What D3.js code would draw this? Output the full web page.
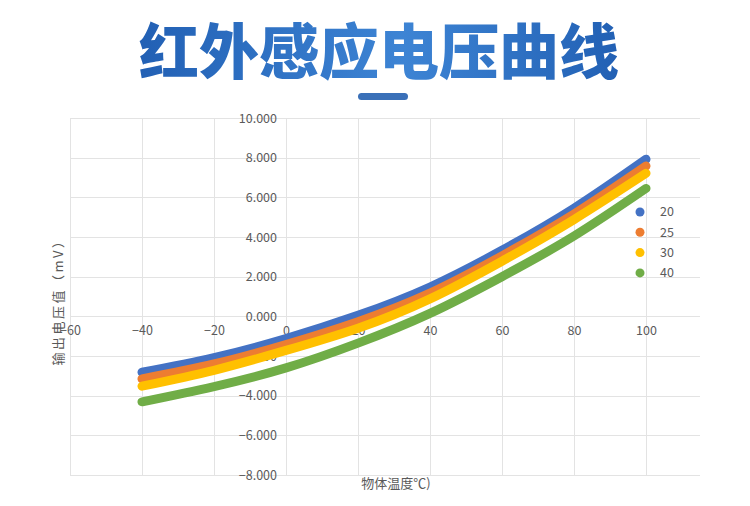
<!DOCTYPE html>
<html>
<head>
<meta charset="utf-8">
<script src="https://cdn.jsdelivr.net/npm/d3@7/dist/d3.min.js"></script>
<style>
  html, body { margin: 0; padding: 0; background: #fff; }
  svg { display: block; }
  .tick-label { font-family: "Noto Sans CJK SC", "Noto Sans", sans-serif; font-size: 12.5px; fill: #5a5a5a; }
</style>
</head>
<body>
<div id="chart"></div>
<script>
// ---- data ----
const title = "红外感应电压曲线";
const xTitle = "物体温度℃)";
const yTitle = "输出电压值（mV）";

const temps = [-40, -20, 0, 20, 40, 60, 80, 100];
const seriesNames = ["20", "25", "30", "40"];
const s20 = [-2.82, -2.08, -1.12, 0.05, 1.48, 3.33, 5.45, 7.92];
const s25 = [-3.15, -2.40, -1.42, -0.27, 1.17, 3.05, 5.16, 7.58];
const s30 = [-3.52, -2.72, -1.72, -0.60, 0.88, 2.78, 4.88, 7.21];
const s40 = [-4.31, -3.54, -2.60, -1.35, 0.15, 2.00, 4.05, 6.45];
const seriesColors = ["#4472C4", "#ED7D31", "#FFC000", "#70AD47"];

const xTicks = [-60, -40, -20, 0, 20, 40, 60, 80, 100];
const yTicks = [-8, -6, -4, -2, 0, 2, 4, 6, 8, 10];

// ---- layout ----
const W = 750, H = 506;
const plot = { left: 70, right: 700, top: 118, bottom: 475 };

const svg = d3.select("#chart").append("svg")
  .attr("width", W).attr("height", H);

// title gradient
const defs = svg.append("defs");
const grad = defs.append("linearGradient").attr("id", "titleGrad")
  .attr("x1", "0%").attr("x2", "100%").attr("y1", "0%").attr("y2", "0%");
grad.append("stop").attr("offset", "0%").attr("stop-color", "#2260b4");
grad.append("stop").attr("offset", "55%").attr("stop-color", "#3d84d4");
grad.append("stop").attr("offset", "100%").attr("stop-color", "#2260b4");

svg.append("text")
  .attr("x", 379).attr("y", 74)
  .attr("text-anchor", "middle")
  .attr("font-family", "'Noto Sans CJK SC', sans-serif")
  .attr("font-weight", 900)
  .attr("font-size", 60)
  .attr("fill", "url(#titleGrad)")
  .text(title);

svg.append("rect")
  .attr("x", 358).attr("y", 93).attr("width", 50).attr("height", 7)
  .attr("rx", 3.5).attr("fill", "#3a70b8");

// scales
const x = d3.scaleLinear().domain([-60, 115]).range([plot.left, plot.right]);
const y = d3.scaleLinear().domain([-8, 10]).range([plot.bottom, plot.top]);

// gridlines
const grid = svg.append("g").attr("stroke", "#e3e3e3").attr("stroke-width", 1);
yTicks.forEach(v => {
  grid.append("line")
    .attr("x1", plot.left).attr("x2", plot.right)
    .attr("y1", Math.round(y(v)) + 0.5).attr("y2", Math.round(y(v)) + 0.5);
});
xTicks.forEach(v => {
  grid.append("line")
    .attr("x1", Math.round(x(v)) + 0.5).attr("x2", Math.round(x(v)) + 0.5)
    .attr("y1", plot.top).attr("y2", plot.bottom);
});

// axes cross at 0: y labels left of x=0, x labels under y=0
const yAxis = d3.axisLeft(y).tickValues(yTicks).tickSize(0).tickPadding(9)
  .tickFormat(d3.format(".3f"));
svg.append("g").attr("transform", `translate(${x(0)},0)`).call(yAxis)
  .call(g => g.select(".domain").remove())
  .selectAll("text").attr("class", "tick-label");

const xAxis = d3.axisBottom(x).tickValues(xTicks).tickSize(0).tickPadding(10);
svg.append("g").attr("transform", `translate(0,${y(0)})`).call(xAxis)
  .call(g => g.select(".domain").remove())
  .selectAll("text").attr("class", "tick-label");

// series
const allSeries = [s20, s25, s30, s40];
const line = d3.line()
  .x(d => x(d[0]))
  .y(d => y(d[1]))
  .curve(d3.curveNatural);

allSeries.forEach((vals, i) => {
  svg.append("path")
    .datum(temps.map((t, j) => [t, vals[j]]))
    .attr("fill", "none")
    .attr("stroke", seriesColors[i])
    .attr("stroke-width", 9)
    .attr("stroke-linecap", "round")
    .attr("stroke-linejoin", "round")
    .attr("d", line);
});

// legend
const legend = svg.append("g").attr("transform", "translate(640,212)");
seriesNames.forEach((name, i) => {
  const g = legend.append("g").attr("transform", `translate(0,${i * 20.3})`);
  g.append("circle").attr("r", 4.5).attr("fill", seriesColors[i]);
  g.append("text").attr("class", "tick-label")
    .attr("x", 20).attr("dy", "0.35em").text(name);
});

// axis titles
svg.append("text")
  .attr("x", 396).attr("y", 488)
  .attr("text-anchor", "middle")
  .attr("font-family", "'Noto Sans CJK SC', sans-serif")
  .attr("font-size", 13).attr("fill", "#595959")
  .text(xTitle);

svg.append("text")
  .attr("transform", "translate(63,299) rotate(-90)")
  .attr("text-anchor", "middle")
  .attr("font-family", "'Noto Sans CJK SC', sans-serif")
  .attr("font-size", 13).attr("letter-spacing", 2.5).attr("fill", "#595959")
  .text(yTitle);
</script>
</body>
</html>
